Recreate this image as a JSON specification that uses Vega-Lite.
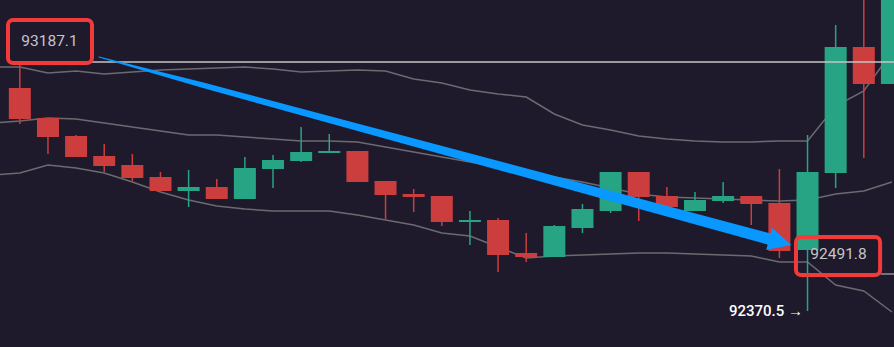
{
  "$schema": "https://vega.github.io/schema/vega-lite/v6.json",
  "width": 894,
  "height": 347,
  "autosize": {"type": "none"},
  "padding": 0,
  "background": "#1e1a2c",
  "config": {"view": {"stroke": null}, "font": "Roboto"},
  "datasets": {
    "candles": [
      {"i": 0, "open": 93101.8, "high": 93187.1, "low": 92983.7, "close": 93000.1},
      {"i": 1, "open": 93003.4, "high": 93003.4, "low": 92885.4, "close": 92941.1},
      {"i": 2, "open": 92944.4, "high": 92947.7, "low": 92875.5, "close": 92875.5},
      {"i": 3, "open": 92878.8, "high": 92918.2, "low": 92826.3, "close": 92846.0},
      {"i": 4, "open": 92849.3, "high": 92885.4, "low": 92796.8, "close": 92806.6},
      {"i": 5, "open": 92809.9, "high": 92826.3, "low": 92764.0, "close": 92764.0},
      {"i": 6, "open": 92764.0, "high": 92832.9, "low": 92711.5, "close": 92777.1},
      {"i": 7, "open": 92777.1, "high": 92803.4, "low": 92737.8, "close": 92737.8},
      {"i": 8, "open": 92737.8, "high": 92875.5, "low": 92737.8, "close": 92839.4},
      {"i": 9, "open": 92836.2, "high": 92882.1, "low": 92773.9, "close": 92865.7},
      {"i": 10, "open": 92862.4, "high": 92973.9, "low": 92859.1, "close": 92891.9},
      {"i": 11, "open": 92888.6, "high": 92951.0, "low": 92888.6, "close": 92895.2},
      {"i": 12, "open": 92895.2, "high": 92895.2, "low": 92793.5, "close": 92793.5},
      {"i": 13, "open": 92796.8, "high": 92796.8, "low": 92672.2, "close": 92750.9},
      {"i": 14, "open": 92754.2, "high": 92770.6, "low": 92695.1, "close": 92744.3},
      {"i": 15, "open": 92747.6, "high": 92747.6, "low": 92649.2, "close": 92662.4},
      {"i": 16, "open": 92662.4, "high": 92698.4, "low": 92586.9, "close": 92668.9},
      {"i": 17, "open": 92668.9, "high": 92675.5, "low": 92498.4, "close": 92554.1},
      {"i": 18, "open": 92560.7, "high": 92626.3, "low": 92531.2, "close": 92547.6},
      {"i": 19, "open": 92547.6, "high": 92652.5, "low": 92547.6, "close": 92649.2},
      {"i": 20, "open": 92642.7, "high": 92721.4, "low": 92626.3, "close": 92705.0},
      {"i": 21, "open": 92698.4, "high": 92826.3, "low": 92691.9, "close": 92826.3},
      {"i": 22, "open": 92826.3, "high": 92826.3, "low": 92665.6, "close": 92744.3},
      {"i": 23, "open": 92747.6, "high": 92777.1, "low": 92705.0, "close": 92711.5},
      {"i": 24, "open": 92698.4, "high": 92760.7, "low": 92698.4, "close": 92734.5},
      {"i": 25, "open": 92731.2, "high": 92793.5, "low": 92724.7, "close": 92747.6},
      {"i": 26, "open": 92747.6, "high": 92747.6, "low": 92652.5, "close": 92721.4},
      {"i": 27, "open": 92724.7, "high": 92836.2, "low": 92544.3, "close": 92567.2},
      {"i": 28, "open": 92570.5, "high": 92947.7, "low": 92370.5, "close": 92826.3},
      {"i": 29, "open": 92823.0, "high": 93308.4, "low": 92773.9, "close": 93236.3},
      {"i": 30, "open": 93236.3, "high": 93420.0, "low": 92872.2, "close": 93114.9},
      {"i": 31, "open": 93114.9, "high": 93440.0, "low": 93114.9, "close": 93420.0}
    ],
    "bands": [
      {"i": -1, "band": "upper", "p": 93170.7}, {"i": 0, "band": "upper", "p": 93170.7}, {"i": 1, "band": "upper", "p": 93151.0}, {"i": 2, "band": "upper", "p": 93157.6}, {"i": 3, "band": "upper", "p": 93147.7}, {"i": 4, "band": "upper", "p": 93154.3}, {"i": 5, "band": "upper", "p": 93160.8}, {"i": 6, "band": "upper", "p": 93164.1}, {"i": 7, "band": "upper", "p": 93167.4}, {"i": 8, "band": "upper", "p": 93170.7}, {"i": 9, "band": "upper", "p": 93164.1}, {"i": 10, "band": "upper", "p": 93154.3}, {"i": 11, "band": "upper", "p": 93157.6}, {"i": 12, "band": "upper", "p": 93160.8}, {"i": 13, "band": "upper", "p": 93157.6}, {"i": 14, "band": "upper", "p": 93131.3}, {"i": 15, "band": "upper", "p": 93118.2}, {"i": 16, "band": "upper", "p": 93095.2}, {"i": 17, "band": "upper", "p": 93082.1}, {"i": 18, "band": "upper", "p": 93072.3}, {"i": 19, "band": "upper", "p": 93016.5}, {"i": 20, "band": "upper", "p": 92980.5}, {"i": 21, "band": "upper", "p": 92964.1}, {"i": 22, "band": "upper", "p": 92944.4}, {"i": 23, "band": "upper", "p": 92934.5}, {"i": 24, "band": "upper", "p": 92928.0}, {"i": 25, "band": "upper", "p": 92924.7}, {"i": 26, "band": "upper", "p": 92924.7}, {"i": 27, "band": "upper", "p": 92928.0}, {"i": 28, "band": "upper", "p": 92928.0}, {"i": 29, "band": "upper", "p": 93042.8}, {"i": 30, "band": "upper", "p": 93092.0}, {"i": 31, "band": "upper", "p": 93219.9},
      {"i": -1, "band": "middle", "p": 92987.0}, {"i": 0, "band": "middle", "p": 92993.6}, {"i": 1, "band": "middle", "p": 93003.4}, {"i": 2, "band": "middle", "p": 93000.1}, {"i": 3, "band": "middle", "p": 92987.0}, {"i": 4, "band": "middle", "p": 92973.9}, {"i": 5, "band": "middle", "p": 92960.8}, {"i": 6, "band": "middle", "p": 92947.7}, {"i": 7, "band": "middle", "p": 92947.7}, {"i": 8, "band": "middle", "p": 92941.1}, {"i": 9, "band": "middle", "p": 92934.5}, {"i": 10, "band": "middle", "p": 92928.0}, {"i": 11, "band": "middle", "p": 92928.0}, {"i": 12, "band": "middle", "p": 92924.7}, {"i": 13, "band": "middle", "p": 92908.3}, {"i": 14, "band": "middle", "p": 92891.9}, {"i": 15, "band": "middle", "p": 92875.5}, {"i": 16, "band": "middle", "p": 92859.1}, {"i": 17, "band": "middle", "p": 92842.7}, {"i": 18, "band": "middle", "p": 92826.3}, {"i": 19, "band": "middle", "p": 92809.9}, {"i": 20, "band": "middle", "p": 92793.5}, {"i": 21, "band": "middle", "p": 92773.9}, {"i": 22, "band": "middle", "p": 92754.2}, {"i": 23, "band": "middle", "p": 92744.3}, {"i": 24, "band": "middle", "p": 92741.0}, {"i": 25, "band": "middle", "p": 92737.8}, {"i": 26, "band": "middle", "p": 92734.5}, {"i": 27, "band": "middle", "p": 92731.2}, {"i": 28, "band": "middle", "p": 92734.5}, {"i": 29, "band": "middle", "p": 92754.2}, {"i": 30, "band": "middle", "p": 92764.0}, {"i": 31, "band": "middle", "p": 92793.5},
      {"i": -1, "band": "lower", "p": 92816.5}, {"i": 0, "band": "lower", "p": 92823.0}, {"i": 1, "band": "lower", "p": 92849.3}, {"i": 2, "band": "lower", "p": 92839.4}, {"i": 3, "band": "lower", "p": 92823.0}, {"i": 4, "band": "lower", "p": 92793.5}, {"i": 5, "band": "lower", "p": 92760.7}, {"i": 6, "band": "lower", "p": 92734.5}, {"i": 7, "band": "lower", "p": 92714.8}, {"i": 8, "band": "lower", "p": 92705.0}, {"i": 9, "band": "lower", "p": 92698.4}, {"i": 10, "band": "lower", "p": 92698.4}, {"i": 11, "band": "lower", "p": 92698.4}, {"i": 12, "band": "lower", "p": 92685.3}, {"i": 13, "band": "lower", "p": 92668.9}, {"i": 14, "band": "lower", "p": 92652.5}, {"i": 15, "band": "lower", "p": 92626.3}, {"i": 16, "band": "lower", "p": 92616.4}, {"i": 17, "band": "lower", "p": 92580.4}, {"i": 18, "band": "lower", "p": 92544.3}, {"i": 19, "band": "lower", "p": 92550.9}, {"i": 20, "band": "lower", "p": 92554.1}, {"i": 21, "band": "lower", "p": 92557.4}, {"i": 22, "band": "lower", "p": 92560.7}, {"i": 23, "band": "lower", "p": 92560.7}, {"i": 24, "band": "lower", "p": 92557.4}, {"i": 25, "band": "lower", "p": 92554.1}, {"i": 26, "band": "lower", "p": 92550.9}, {"i": 27, "band": "lower", "p": 92531.2}, {"i": 28, "band": "lower", "p": 92531.2}, {"i": 29, "band": "lower", "p": 92455.8}, {"i": 30, "band": "lower", "p": 92436.1}, {"i": 31, "band": "lower", "p": 92367.2}
    ],
    "levels": [
      {"p": 93187.1, "from": 2.57, "to": 31.5, "kind": "a"},
      {"p": 92491.8, "from": 30.6, "to": 31.5, "kind": "b"}
    ],
    "boxes": [
      {"x1": -0.42, "x2": 2.566, "y1": 93324.8, "y2": 93183.8},
      {"x1": 27.59, "x2": 30.58, "y1": 92613.2, "y2": 92488.5}
    ],
    "arrow": [
      {"i": 2.812, "p": 93203.5},
      {"i": 6.503, "p": 93111.0},
      {"i": 26.714, "p": 92604.6}
    ],
    "arrowhead": [
      {"i": 27.03, "p": 92596.8}
    ],
    "labels": [
      {"i": 1.054, "p": 93254.3, "label": "93187.1"},
      {"i": 29.10, "p": 92557.4, "label": "92491.8"}
    ],
    "lowlabel": [
      {"i": 27.84, "p": 92370.5, "label": "92370.5 →"}
    ]
  },
  "layer": [
    {
      "data": {"name": "bands"},
      "mark": {"type": "line", "color": "#6c6a70", "strokeWidth": 1.5, "clip": true},
      "encoding": {
        "x": {"field": "i", "type": "quantitative", "scale": {"domain": [-0.527, 30.896], "nice": false, "zero": false}, "axis": null},
        "y": {"field": "p", "type": "quantitative", "scale": {"domain": [92252.4, 93390.4], "nice": false, "zero": false}, "axis": null},
        "detail": {"field": "band"}
      }
    },
    {
      "data": {"name": "candles"},
      "mark": {"type": "rule", "strokeWidth": 1.5, "clip": true},
      "encoding": {
        "x": {"field": "i", "type": "quantitative", "scale": {"domain": [-0.527, 30.896], "nice": false, "zero": false}, "axis": null},
        "y": {"field": "high", "type": "quantitative", "scale": {"domain": [92252.4, 93390.4], "nice": false, "zero": false}, "axis": null},
        "y2": {"field": "low"},
        "color": {"condition": {"test": "datum.close > datum.open", "value": "#26a483"}, "value": "#cc3e3e"}
      }
    },
    {
      "data": {"name": "candles"},
      "mark": {"type": "bar", "width": 22, "clip": true},
      "encoding": {
        "x": {"field": "i", "type": "quantitative", "scale": {"domain": [-0.527, 30.896], "nice": false, "zero": false}, "axis": null},
        "y": {"field": "open", "type": "quantitative", "scale": {"domain": [92252.4, 93390.4], "nice": false, "zero": false}, "axis": null},
        "y2": {"field": "close"},
        "color": {"condition": {"test": "datum.close > datum.open", "value": "#26a483"}, "value": "#cc3e3e"}
      }
    },
    {
      "data": {"name": "levels"},
      "mark": {"type": "rule", "strokeWidth": 1.6, "clip": true},
      "encoding": {
        "x": {"field": "from", "type": "quantitative", "scale": {"domain": [-0.527, 30.896], "nice": false, "zero": false}, "axis": null},
        "x2": {"field": "to"},
        "y": {"field": "p", "type": "quantitative", "scale": {"domain": [92252.4, 93390.4], "nice": false, "zero": false}, "axis": null},
        "color": {"field": "kind", "type": "nominal", "scale": {"domain": ["a", "b"], "range": ["#c4c4c6", "#8a888e"]}, "legend": null}
      }
    },
    {
      "data": {"name": "arrow"},
      "mark": {"type": "trail", "color": "#0898ff", "clip": true},
      "encoding": {
        "x": {"field": "i", "type": "quantitative", "scale": {"domain": [-0.527, 30.896], "nice": false, "zero": false}, "axis": null},
        "y": {"field": "p", "type": "quantitative", "scale": {"domain": [92252.4, 93390.4], "nice": false, "zero": false}, "axis": null},
        "size": {"field": "i", "type": "quantitative", "scale": {"type": "linear", "domain": [2.812, 6.503, 26.714], "range": [1, 5.5, 11.5], "zero": false}, "legend": null}
      }
    },
    {
      "data": {"name": "arrowhead"},
      "mark": {"type": "point", "shape": "M-1,-1L1,0L-1,1Z", "filled": true, "color": "#0898ff", "opacity": 1, "size": 529, "angle": 15, "clip": true},
      "encoding": {
        "x": {"field": "i", "type": "quantitative", "scale": {"domain": [-0.527, 30.896], "nice": false, "zero": false}, "axis": null},
        "y": {"field": "p", "type": "quantitative", "scale": {"domain": [92252.4, 93390.4], "nice": false, "zero": false}, "axis": null}
      }
    },
    {
      "data": {"name": "boxes"},
      "mark": {"type": "rect", "fill": null, "fillOpacity": 0, "stroke": "#f23a3a", "strokeWidth": 4, "cornerRadius": 5, "clip": true},
      "encoding": {
        "x": {"field": "x1", "type": "quantitative", "scale": {"domain": [-0.527, 30.896], "nice": false, "zero": false}, "axis": null},
        "x2": {"field": "x2"},
        "y": {"field": "y1", "type": "quantitative", "scale": {"domain": [92252.4, 93390.4], "nice": false, "zero": false}, "axis": null},
        "y2": {"field": "y2"}
      }
    },
    {
      "data": {"name": "labels"},
      "mark": {"type": "text", "align": "center", "baseline": "middle", "font": "Roboto", "fontSize": 15.5, "color": "#c6c5ca"},
      "encoding": {
        "x": {"field": "i", "type": "quantitative", "scale": {"domain": [-0.527, 30.896], "nice": false, "zero": false}, "axis": null},
        "y": {"field": "p", "type": "quantitative", "scale": {"domain": [92252.4, 93390.4], "nice": false, "zero": false}, "axis": null},
        "text": {"field": "label"}
      }
    },
    {
      "data": {"name": "lowlabel"},
      "mark": {"type": "text", "align": "right", "baseline": "middle", "font": "Roboto", "fontSize": 15, "fontWeight": 500, "color": "#ffffff"},
      "encoding": {
        "x": {"field": "i", "type": "quantitative", "scale": {"domain": [-0.527, 30.896], "nice": false, "zero": false}, "axis": null},
        "y": {"field": "p", "type": "quantitative", "scale": {"domain": [92252.4, 93390.4], "nice": false, "zero": false}, "axis": null},
        "text": {"field": "label"}
      }
    }
  ]
}
